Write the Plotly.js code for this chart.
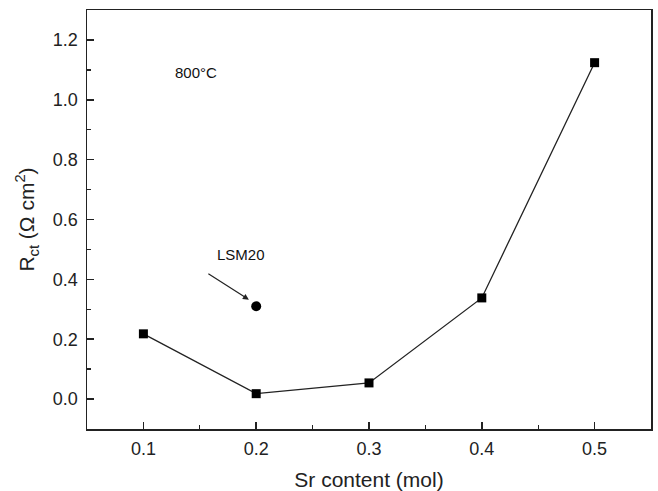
<!DOCTYPE html>
<html>
<head>
<meta charset="utf-8">
<script src="https://cdn.plot.ly/plotly-3.0.1.min.js"></script>
<style>html,body{margin:0;padding:0;background:#fff;}#chart{width:658px;height:491px;}</style>
</head>
<body>
<div id="chart"></div>
<script>
// Data
const srContent = [0.1, 0.2, 0.3, 0.4, 0.5];
const rct = [0.218, 0.018, 0.054, 0.338, 1.124];
const lsm20X = [0.2];
const lsm20Y = [0.31];
const xTicks = [0.1, 0.2, 0.3, 0.4, 0.5];
const yTicks = [0.0, 0.2, 0.4, 0.6, 0.8, 1.0, 1.2];

const FAM = 'Liberation Sans, Arial, sans-serif';
const tickFont = {family: FAM, size: 18, color: '#222'};
const titleFont = {family: FAM, size: 21, color: '#222'};

const traces = [
  {
    x: srContent, y: rct, type: 'scatter', mode: 'lines+markers',
    line: {color: '#222', width: 1.3},
    marker: {symbol: 'square', size: 9, color: '#000'},
    showlegend: false, hoverinfo: 'skip'
  },
  {
    x: lsm20X, y: lsm20Y, type: 'scatter', mode: 'markers',
    marker: {symbol: 'circle', size: 10, color: '#000'},
    showlegend: false, hoverinfo: 'skip'
  }
];

const layout = {
  width: 658, height: 491,
  margin: {l: 87, r: 7, t: 10, b: 62},
  paper_bgcolor: '#fff', plot_bgcolor: '#fff',
  font: tickFont,
  xaxis: {
    range: [0.05, 0.55], tickvals: xTicks, ticktext: xTicks.map(v => v.toFixed(1)),
    ticks: 'inside', ticklen: 7, tickwidth: 1.5, tickcolor: '#222',
    minor: {ticks: 'inside', ticklen: 4, tickwidth: 1.3, tickcolor: '#222', dtick: 0.05, tick0: 0.05},
    showline: true, linecolor: '#222', linewidth: 1.5, mirror: true,
    showgrid: false, zeroline: false, ticklabelstandoff: 3,
    tickfont: tickFont,
    title: {text: 'Sr content (mol)', font: titleFont, standoff: 14}
  },
  yaxis: {
    range: [-0.1, 1.3], tickvals: yTicks, ticktext: yTicks.map(v => v.toFixed(1)),
    ticks: 'inside', ticklen: 7, tickwidth: 1.5, tickcolor: '#222',
    minor: {ticks: 'inside', ticklen: 4, tickwidth: 1.3, tickcolor: '#222', dtick: 0.1, tick0: -0.1},
    showline: true, linecolor: '#222', linewidth: 1.5, mirror: true,
    showgrid: false, zeroline: false, ticklabelstandoff: 4,
    tickfont: tickFont,
    title: {text: 'R<sub>ct</sub> (Ω cm<sup>2</sup>)', font: titleFont, standoff: 12}
  },
  annotations: [
    {
      x: 0.1935, y: 0.332, xref: 'x', yref: 'y', text: '',
      showarrow: true, arrowhead: 2, arrowsize: 1, arrowwidth: 1.2, arrowcolor: '#222',
      ax: -42, ay: -27
    },
    {
      x: 0.1865, y: 0.483, xref: 'x', yref: 'y', text: 'LSM20', showarrow: false,
      font: {family: FAM, size: 15, color: '#111'}
    },
    {
      x: 0.147, y: 1.091, xref: 'x', yref: 'y', text: '800°C', showarrow: false,
      font: {family: FAM, size: 15, color: '#111'}
    }
  ]
};

Plotly.newPlot('chart', traces, layout, {displayModeBar: false, staticPlot: true});
</script>
</body>
</html>
